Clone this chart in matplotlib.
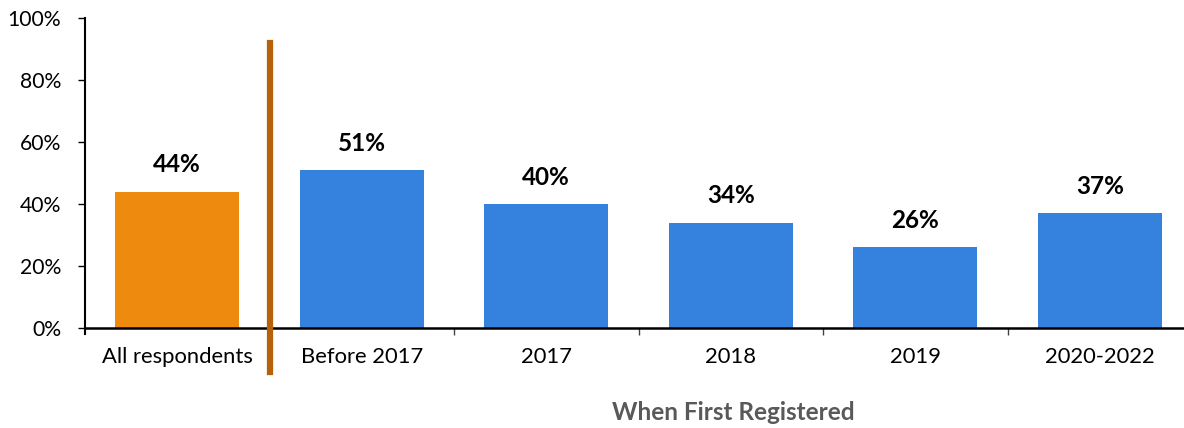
import matplotlib
matplotlib.use("Agg")
import matplotlib.pyplot as plt
from matplotlib.ticker import PercentFormatter, FixedLocator

plt.rcParams['font.family'] = ['Lato', 'DejaVu Sans']

categories = ["All respondents", "Before 2017", "2017", "2018", "2019", "2020-2022"]
values = [44, 51, 40, 34, 26, 37]
colors = ["#EE8A0E", "#3582DE", "#3582DE", "#3582DE", "#3582DE", "#3582DE"]
yticks = [0, 20, 40, 60, 80, 100]
xlabel = "When First Registered"

W, H = 1184, 428
fig = plt.figure(figsize=(W / 100, H / 100), dpi=100)
ax = fig.add_axes([85 / W, (H - 328) / H, (1192 - 85) / W, (328 - 18) / H])

x = list(range(len(categories)))
ax.bar(x, values, width=0.67, color=colors, zorder=2)
for xi, v in zip(x, values):
    ax.annotate(f"{v}%", (xi, v), xytext=(0, 11), textcoords="offset points",
                ha="center", va="bottom", fontsize=17.5, fontweight="bold", color="black")

ax.set_xlim(-0.5, len(categories) - 0.5)
ax.set_ylim(0, 100)
ax.set_yticks(yticks)
ax.yaxis.set_major_formatter(PercentFormatter(decimals=0))
ax.set_xticks(x)
ax.set_xticklabels(categories)
ax.xaxis.set_minor_locator(FixedLocator([i + 0.5 for i in range(len(categories) - 1)]))
ax.tick_params(axis="x", which="major", length=0, pad=14, labelsize=15.8)
ax.tick_params(axis="x", which="minor", length=5, width=1, color="#444444")
ax.tick_params(axis="y", length=5, width=1, labelsize=15.2, pad=12)

for s in ["top", "right"]:
    ax.spines[s].set_visible(False)
ax.spines["left"].set_linewidth(1.5)
ax.spines["bottom"].set_linewidth(1.8)
ax.spines["left"].set_bounds(-2, 100)

# separator line between overall and breakdown
ax.plot([0.5, 0.5], [-14.2, 92], color="#B5620A", lw=4.5, clip_on=False, zorder=3)

fig.text(733 / W, 1 - 412 / H, xlabel, ha="center", va="center",
         fontsize=17.5, fontweight="bold", color="#595959")

fig.savefig("out.png", dpi=100)
